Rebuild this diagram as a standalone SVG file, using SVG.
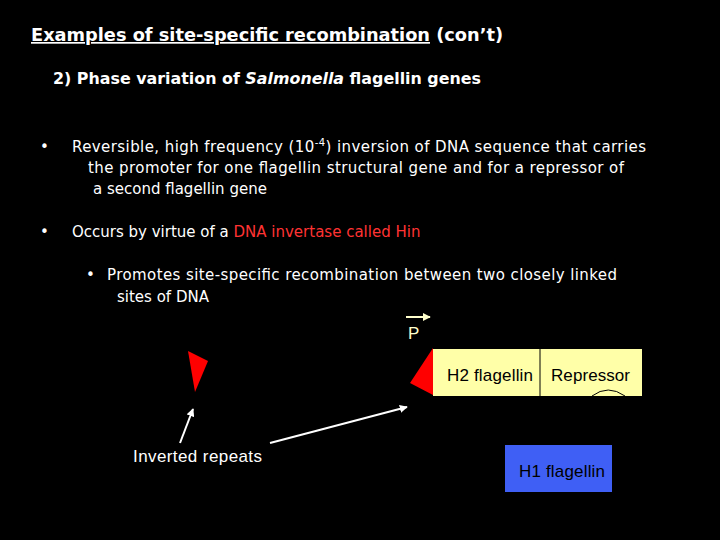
<svg xmlns="http://www.w3.org/2000/svg" width="720" height="540" viewBox="0 0 720 540">
<style>
.t{font-family:"DejaVu Sans",Verdana,sans-serif;font-size:15px;fill:#fff}
.a{font-family:"Liberation Sans",Arial,sans-serif;font-size:17px;fill:#000}
.w{stroke:#fff;stroke-width:2;fill:none}
</style>
<defs>
<marker id="ah" viewBox="0 0 10 10" refX="9" refY="5" markerWidth="4" markerHeight="4" orient="auto"><path d="M0,0L10,5L0,10z" fill="#fff"/></marker>
<marker id="ay" viewBox="0 0 10 10" refX="9" refY="5" markerWidth="4" markerHeight="4" orient="auto"><path d="M0,0L10,5L0,10z" fill="#ffffcc"/></marker>
</defs>
<rect width="720" height="540" fill="#000"/>
<text x="31" y="41" font-family="DejaVu Sans,Verdana,sans-serif" font-size="17" font-weight="bold" fill="#fff" textLength="472" lengthAdjust="spacingAndGlyphs"><tspan text-decoration="underline">Examples of site-specific recombination</tspan> (con’t)</text>
<text x="53" y="84" class="t" font-weight="bold" textLength="428" lengthAdjust="spacingAndGlyphs">2) Phase variation of <tspan font-style="italic">Salmonella</tspan> flagellin genes</text>
<text x="40" y="152" class="t">•</text>
<text x="72" y="152" class="t" textLength="574">Reversible, high frequency (10<tspan font-size="10" dy="-6">-4</tspan><tspan dy="6">) inversion of DNA sequence that carries</tspan></text>
<text x="88" y="173" class="t" textLength="536">the promoter for one flagellin structural gene and for a repressor of</text>
<text x="93" y="194" class="t">a second flagellin gene</text>
<text x="40" y="237" class="t">•</text>
<text x="72" y="237" class="t">Occurs by virtue of a <tspan fill="#ff3333">DNA invertase called Hin</tspan></text>
<text x="86" y="280" class="t">•</text>
<text x="107" y="280" class="t" textLength="510">Promotes site-specific recombination between two closely linked</text>
<text x="117" y="302" class="t">sites of DNA</text>
<g id="connectors">
<line class="w" x1="180" y1="443" x2="193" y2="409" marker-end="url(#ah)"/>
<line class="w" x1="270" y1="443" x2="407" y2="407" marker-end="url(#ah)"/>
<line x1="406" y1="317" x2="430" y2="317" stroke="#ffffcc" stroke-width="2" marker-end="url(#ay)"/>
</g>
<g id="repeat1"><polygon points="188,351 208,361 195,392" fill="#ff0000"/></g>
<g id="repeat2"><polygon points="433,348 410,383 433,395" fill="#ff0000"/></g>
<g id="promoter"><text x="408" y="339" font-family="Liberation Sans,Arial,sans-serif" font-size="17" fill="#ffffcc">P</text></g>
<g id="h2"><rect x="433" y="349" width="108" height="47" fill="#ffffa8"/><line x1="540" y1="349" x2="540" y2="396" stroke="#000"/><text x="447" y="381" class="a" textLength="86">H2 flagellin</text></g>
<g id="rep"><rect x="541" y="349" width="101" height="47" fill="#ffffa8"/><text x="551" y="381" class="a" textLength="79">Repressor</text><path d="M592,396 Q608,384 625,396" stroke="#000" fill="none"/></g>
<g id="h1"><rect x="505" y="445" width="107" height="47" fill="#3f5ff5"/><text x="519" y="477" class="a" textLength="86">H1 flagellin</text></g>
<g id="label"><text x="133" y="462" font-family="Liberation Sans,Arial,sans-serif" font-size="17" fill="#fff" textLength="129">Inverted repeats</text></g>
</svg>
